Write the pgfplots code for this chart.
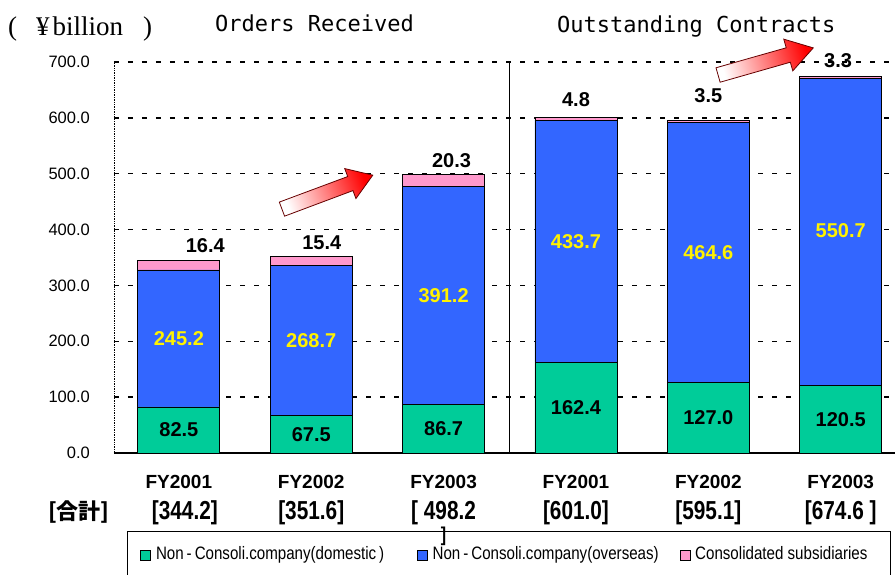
\documentclass[border=0pt]{standalone}
\usepackage{fontspec}
\usepackage{pgfplots}
\pgfplotsset{compat=1.18}
\usetikzlibrary{calc}
\setmainfont{Liberation Sans}
\newfontfamily\brfont[FakeStretch=0.8]{Liberation Sans}
\newfontfamily\legfont[FakeStretch=0.84]{Liberation Sans}
\newfontfamily\titlefont{DejaVu Sans Mono}
\newfontfamily\serffont{Liberation Serif}
\newfontfamily\cjk{Noto Sans CJK JP}
\newcommand\brf{\brfont\bfseries\fontsize{26}{28}\selectfont}

\definecolor{cgreen}{HTML}{00CC99}
\definecolor{cblue}{HTML}{3366FF}
\definecolor{cpink}{HTML}{FF99CC}

\begin{document}
\begin{tikzpicture}[lab/.style={font=\bfseries\fontsize{20}{21}\selectfont, text=black},
  ylab/.style={font=\bfseries\fontsize{20}{21}\selectfont, text=yellow}]
\begin{axis}[
  scale only axis, width=781pt, height=391pt,
  xmin=-0.49, xmax=5.41, ymin=0, ymax=700,
  ybar stacked, bar width=0.62,
  axis x line*=bottom, axis y line*=left,
  x axis line style={-, line width=1.2pt},
  y axis line style={-, densely dotted, line width=0.7pt},
  ytick={0,100,...,700},
  /pgf/number format/assume math mode=true,
  yticklabel={\pgfmathprintnumber[fixed,fixed zerofill,precision=1]{\tick}},
  yticklabel style={font=\fontsize{16.5}{18}\selectfont, inner sep=0pt, anchor=east, xshift=-24pt},
  ymajorgrids,
  grid style={black, line width=1.5pt, dash pattern=on 5pt off 9pt},
  major tick length=0pt,
  xtick={0,1,2,3,4,5},
  xticklabels={
    {FY2001\\[5pt]\brf\hspace{12pt}[344.2]},
    {FY2002\\[5pt]\brf[351.6]},
    {FY2003\\[5pt]\brf{[} 498.2\\[-4pt]{\brfont\bfseries\fontsize{20}{28}\selectfont ]}},
    {FY2001\\[5pt]\brf[601.0]},
    {FY2002\\[5pt]\brf[595.1]},
    {FY2003\\[5pt]\brf[674.6 ]}},
  xticklabel style={font=\bfseries\fontsize{19}{26}\selectfont, align=center, anchor=north, inner sep=0pt, yshift=-22pt},
  area legend,
  legend image code/.code={\draw[#1, draw=black, line width=0.6pt] (0pt,-5pt) rectangle (10pt,5pt);},
  legend columns=3,
  legend style={at={(rel axis cs:0.01665,-0.1995)}, anchor=north west,
    draw=black, line width=0.8pt, fill=none,
    inner xsep=13pt, inner ysep=16pt, column sep=0pt,
    nodes={inner sep=0pt, text height=12pt, text depth=4pt},
    font=\legfont\fontsize{18}{20}\selectfont},
  legend cell align=left,
]
\addplot[fill=cgreen, draw=black, line width=0.8pt]
  coordinates {(0,82.5) (1,67.5) (2,86.7) (3,162.4) (4,127.0) (5,120.5)};
\addplot[fill=cblue, draw=black, line width=0.8pt]
  coordinates {(0,245.2) (1,268.7) (2,391.2) (3,433.7) (4,464.6) (5,550.7)};
\addplot[fill=cpink, draw=black, line width=0.8pt]
  coordinates {(0,16.4) (1,15.4) (2,20.3) (3,4.8) (4,3.5) (5,3.3)};
\legend{{\makebox[266pt][l]{\hspace{5pt}Non\,-\,Consoli.company(domestic\,)}},
  {\makebox[252pt][l]{\hspace{5pt}Non\,-\,Consoli.company(overseas)}},
  {\makebox[187pt][l]{\hspace{5pt}Consolidated subsidiaries}}}

\draw[black, line width=1pt] (axis cs:2.5,0) -- (axis cs:2.5,700);

\coordinate (g0) at (axis cs:0,41.25);
\coordinate (g1) at (axis cs:1,33.75);
\coordinate (g2) at (axis cs:2,43.35);
\coordinate (g3) at (axis cs:3,81.2);
\coordinate (g4) at (axis cs:4,63.5);
\coordinate (g5) at (axis cs:5,60.25);
\coordinate (b0) at (axis cs:0,205.1);
\coordinate (b1) at (axis cs:1,201.85);
\coordinate (b2) at (axis cs:2,282.3);
\coordinate (b3) at (axis cs:3,379.25);
\coordinate (b4) at (axis cs:4,359.3);
\coordinate (b5) at (axis cs:5,398);
\coordinate (t0) at (axis cs:0.2,372);
\coordinate (t1) at (axis cs:1.08,376);
\coordinate (t2) at (axis cs:2.06,523);
\coordinate (t3) at (axis cs:3.0,632);
\coordinate (t4) at (axis cs:4.0,639);
\coordinate (t5) at (axis cs:4.98,702);

\coordinate (O) at (rel axis cs:0,0);
\coordinate (A1) at (axis cs:1.122,467);
\coordinate (A2) at (axis cs:4.433,701);
\end{axis}

\node[lab] at (g0) {82.5};
\node[lab] at (g1) {67.5};
\node[lab] at (g2) {86.7};
\node[lab] at (g3) {162.4};
\node[lab] at (g4) {127.0};
\node[lab] at (g5) {120.5};
\node[ylab] at (b0) {245.2};
\node[ylab] at (b1) {268.7};
\node[ylab] at (b2) {391.2};
\node[ylab] at (b3) {433.7};
\node[ylab] at (b4) {464.6};
\node[ylab] at (b5) {550.7};
\node[lab] at (t0) {16.4};
\node[lab] at (t1) {15.4};
\node[lab] at (t2) {20.3};
\node[lab] at (t3) {4.8};
\node[lab] at (t4) {3.5};
\node[lab] at (t5) {3.3};

\draw[shift={(A1)}, rotate=20.5, draw=black!60!red, line width=0.8pt,
  left color=white, right color=red, shading angle=110.5]
  (-48.5pt,-7.5pt) -- (24.5pt,-7.5pt) -- (24.5pt,-16pt) -- (48.5pt,0pt) -- (24.5pt,16pt) -- (24.5pt,7.5pt) -- (-48.5pt,7.5pt) -- cycle;
\draw[shift={(A2)}, rotate=15.9, draw=black!60!red, line width=0.8pt,
  left color=white, right color=red, shading angle=105.9]
  (-49.5pt,-7.5pt) -- (23.5pt,-7.5pt) -- (23.5pt,-16.5pt) -- (49.5pt,0pt) -- (23.5pt,16.5pt) -- (23.5pt,7.5pt) -- (-49.5pt,7.5pt) -- cycle;

\node[anchor=base west, inner sep=0pt, font=\serffont\fontsize{27}{29}\selectfont]
  at ($(O)+(-106pt,417pt)$) {(\hspace{19pt}¥\hspace{3pt}billion\hspace{20pt})};
\node[anchor=base west, inner sep=0pt, font=\titlefont\fontsize{22}{24}\selectfont]
  at ($(O)+(101pt,421pt)$) {Orders Received};
\node[anchor=base west, inner sep=0pt, font=\titlefont\fontsize{22}{24}\selectfont]
  at ($(O)+(443pt,420pt)$) {Outstanding Contracts};
\node[anchor=east, inner sep=0pt, font=\cjk\bfseries\fontsize{22}{24}\selectfont]
  at ($(O)+(-4pt,-59pt)$) {[合計]};

\pgfresetboundingbox
\path[use as bounding box] ($(O)+(-114pt,-121pt)$) rectangle ($(O)+(781pt,453pt)$);
\end{tikzpicture}
\end{document}
